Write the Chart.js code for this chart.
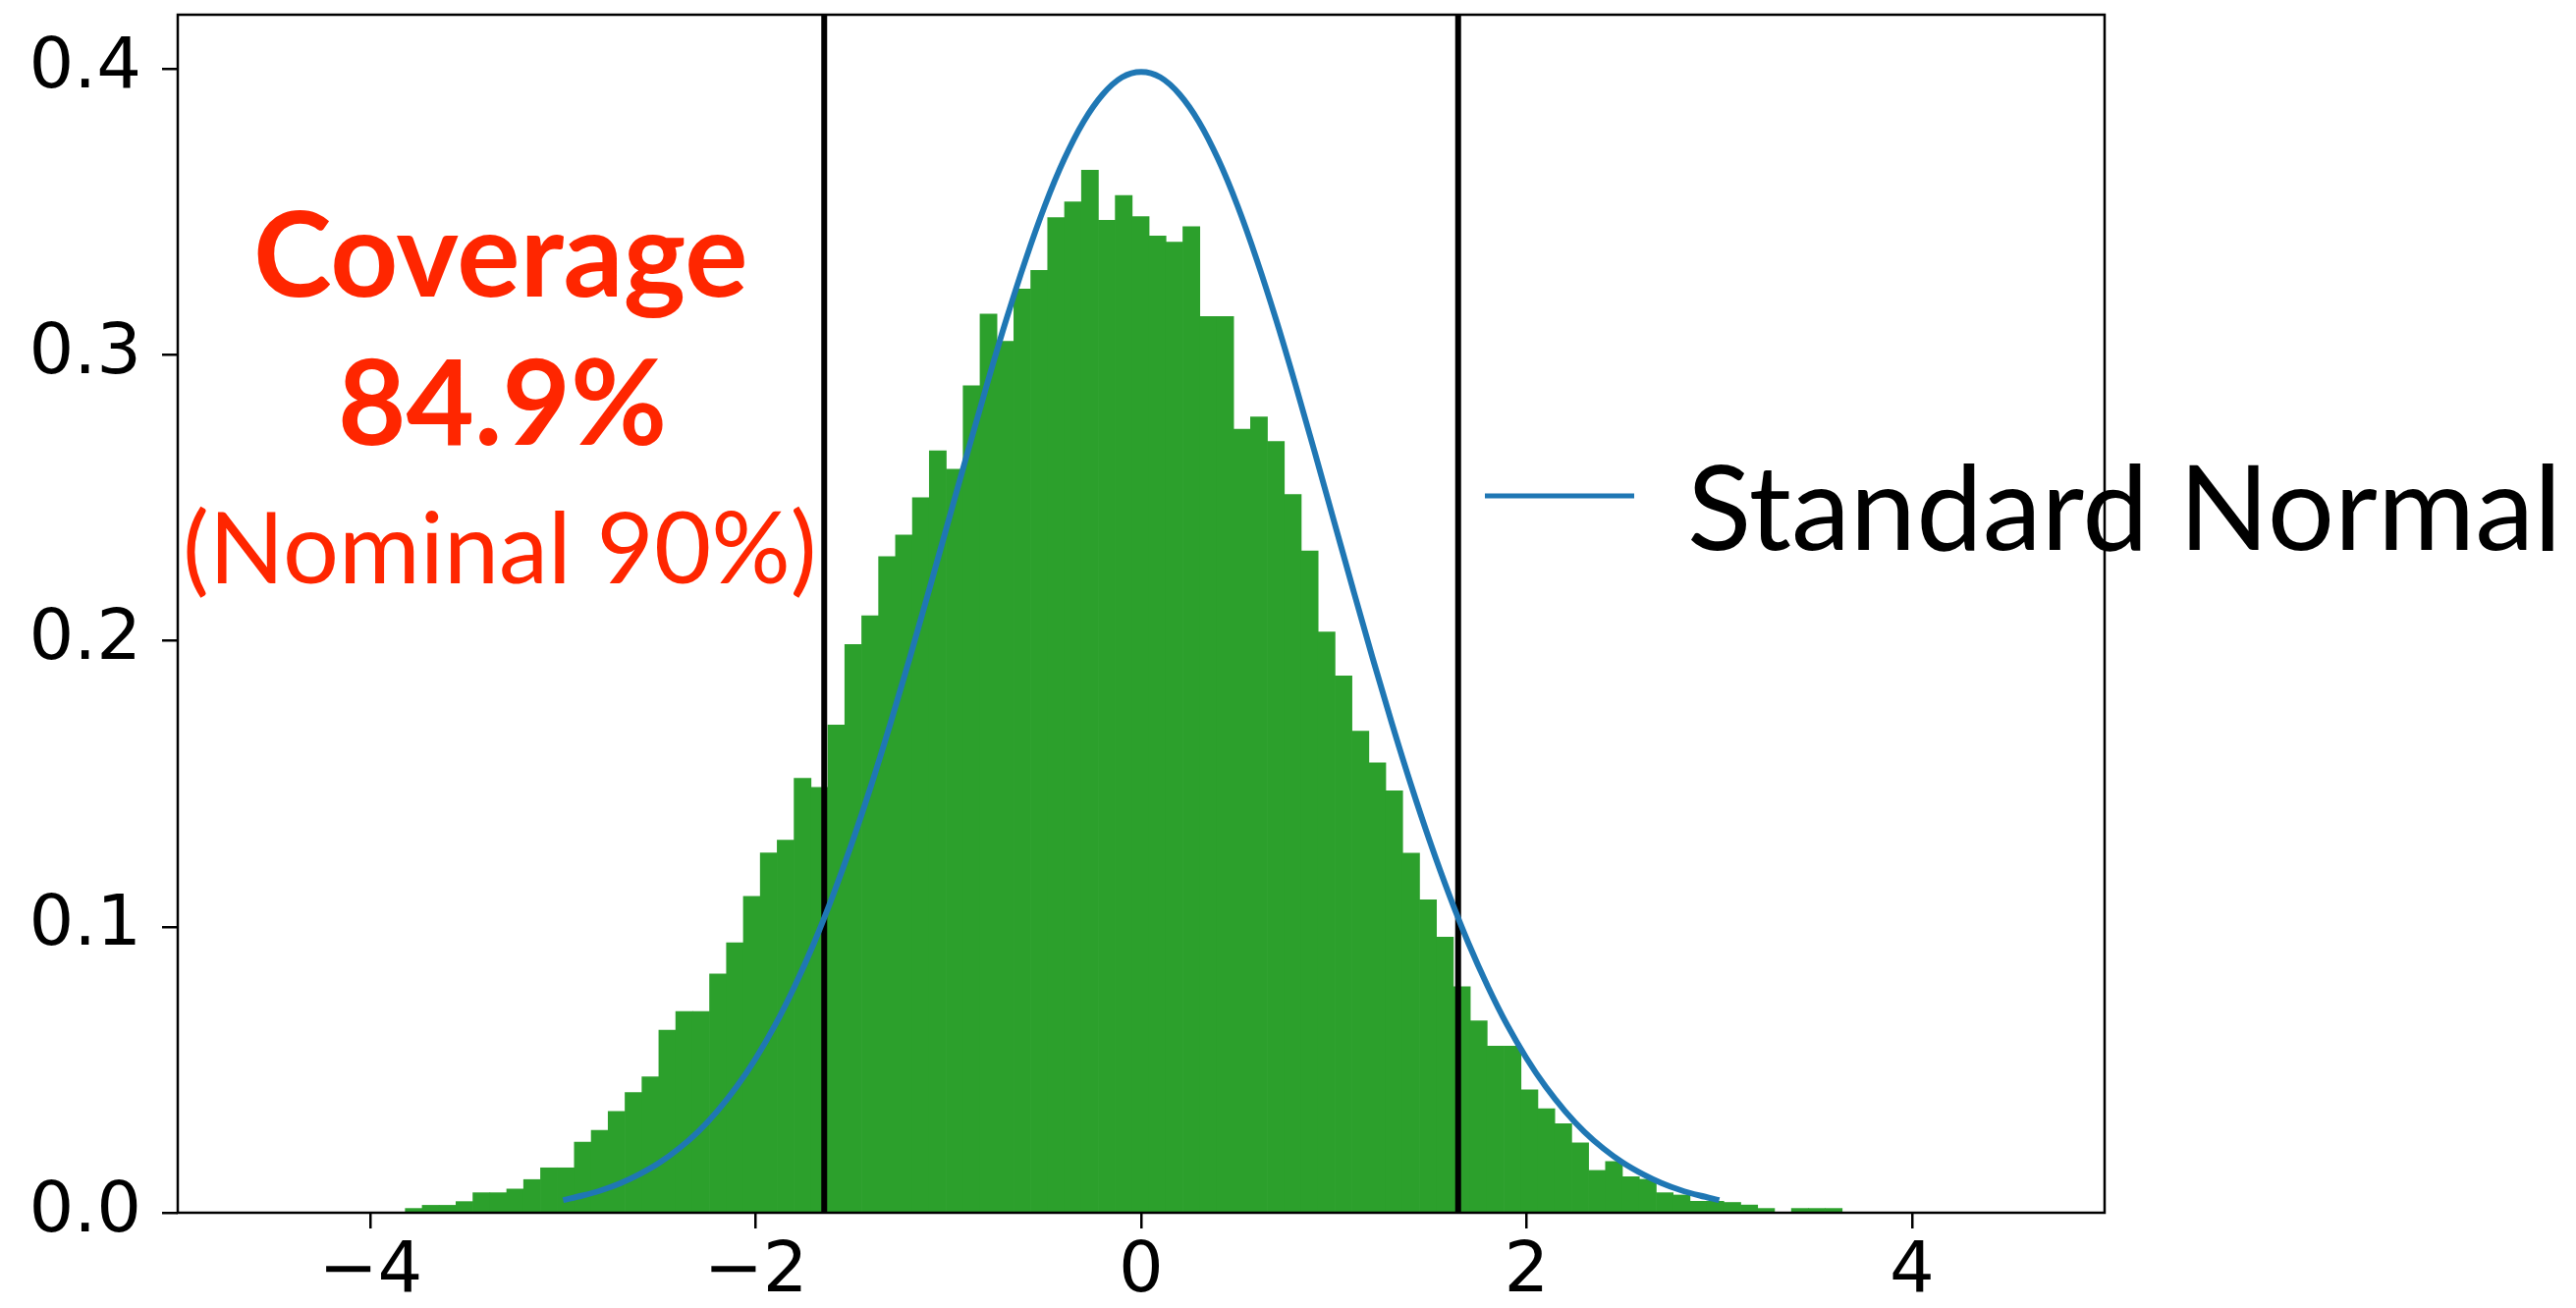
<!DOCTYPE html>
<html>
<head>
<meta charset="utf-8">
<script src="https://cdn.jsdelivr.net/npm/chart.js@4.4.1/dist/chart.umd.min.js"></script>
<style>
html,body{margin:0;padding:0;background:#ffffff;}
#wrap{width:2623px;height:1332px;}
canvas{display:block;}
</style>
</head>
<body>
<div id="wrap"><canvas id="c" width="2623" height="1332"></canvas></div>
<script>
// ---------- data ----------
const binStart = -3.819;      // left edge of first histogram bin
const binWidth = 0.08773;     // bin width
const density = [
  0.0015, 0.0026, 0.0026, 0.0039, 0.0070, 0.0070, 0.0083, 0.0116, 0.0157, 0.0157,
  0.0247, 0.0288, 0.0354, 0.0420, 0.0475, 0.0638, 0.0704, 0.0704, 0.0835, 0.0944,
  0.1106, 0.1258, 0.1303, 0.1519, 0.1487, 0.1705, 0.1987, 0.2087, 0.2294, 0.2370,
  0.2500, 0.2664, 0.2600, 0.2892, 0.3142, 0.3047, 0.3230, 0.3295, 0.3480, 0.3535,
  0.3645, 0.3470, 0.3557, 0.3483, 0.3415, 0.3394, 0.3448, 0.3134, 0.3134, 0.2740,
  0.2783, 0.2697, 0.2511, 0.2314, 0.2031, 0.1877, 0.1684, 0.1573, 0.1475, 0.1257,
  0.1094, 0.0964, 0.0790, 0.0671, 0.0583, 0.0583, 0.0430, 0.0364, 0.0311, 0.0244,
  0.0148, 0.0179, 0.0126, 0.0117, 0.0070, 0.0062, 0.0040, 0.0040, 0.0036, 0.0027,
  0.0015, 0.0000, 0.0015, 0.0015, 0.0015
];
const curveX = [
  -3.0,-2.9,-2.8,-2.7,-2.6,-2.5,-2.4,-2.3,-2.2,-2.1,-2.0,-1.9,-1.8,-1.7,-1.6,-1.5,
  -1.4,-1.3,-1.2,-1.1,-1.0,-0.9,-0.8,-0.7,-0.6,-0.5,-0.4,-0.3,-0.2,-0.1,0.0,
  0.1,0.2,0.3,0.4,0.5,0.6,0.7,0.8,0.9,1.0,1.1,1.2,1.3,1.4,1.5,
  1.6,1.7,1.8,1.9,2.0,2.1,2.2,2.3,2.4,2.5,2.6,2.7,2.8,2.9,3.0
];
const curveY = [
  0.0044,0.0060,0.0079,0.0104,0.0136,0.0175,0.0224,0.0283,0.0355,0.0440,0.0540,0.0656,0.0790,0.0940,0.1109,0.1295,
  0.1497,0.1714,0.1942,0.2179,0.2420,0.2661,0.2897,0.3123,0.3332,0.3521,0.3683,0.3814,0.3910,0.3970,0.3989,
  0.3970,0.3910,0.3814,0.3683,0.3521,0.3332,0.3123,0.2897,0.2661,0.2420,0.2179,0.1942,0.1714,0.1497,0.1295,
  0.1109,0.0940,0.0790,0.0656,0.0540,0.0440,0.0355,0.0283,0.0224,0.0175,0.0136,0.0104,0.0079,0.0060,0.0044
];
const nominalBounds = [-1.645, 1.645];
const xRange = [-5, 5];
const yRange = [0, 0.4189];
const xTicks = [-4, -2, 0, 2, 4];
const xTickLabels = ['\u22124', '\u22122', '0', '2', '4'];
const yTicks = [0, 0.1, 0.2, 0.3, 0.4];
const yTickLabels = ['0.0', '0.1', '0.2', '0.3', '0.4'];
const legendLabel = 'Standard Normal';
const annotationLines = ['Coverage', '84.9%', '(Nominal 90%)'];

// ---------- build datasets ----------
const histPoints = density.map((d, i) => ({ x: binStart + (i + 0.5) * binWidth, y: d }));
const curvePoints = curveX.map((x, i) => ({ x: x, y: curveY[i] }));
const boundLines = nominalBounds.map(b => [{ x: b, y: yRange[0] }, { x: b, y: yRange[1] }]);

const RED = 'rgb(255,38,0)';
const BLUE = '#1f77b4';

function drawFitted(ctx, text, weight, family, left, right, baseline, color) {
  ctx.font = weight + ' 100px ' + family;
  let m = ctx.measureText(text);
  let ink = m.actualBoundingBoxLeft + m.actualBoundingBoxRight;
  const size = 100 * (right - left) / ink;
  ctx.font = weight + ' ' + size + 'px ' + family;
  m = ctx.measureText(text);
  ctx.fillStyle = color;
  ctx.textAlign = 'left';
  ctx.textBaseline = 'alphabetic';
  ctx.fillText(text, left + m.actualBoundingBoxLeft, baseline);
}

const framePlugin = {
  id: 'frame',
  afterDatasetsDraw(chart) {
    const { ctx, chartArea: a } = chart;
    ctx.save();
    ctx.strokeStyle = '#000';
    ctx.lineWidth = 2.5;
    ctx.strokeRect(a.left, a.top, a.right - a.left, a.bottom - a.top);
    ctx.restore();
  }
};

const annotPlugin = {
  id: 'annot',
  afterDraw(chart) {
    const ctx = chart.ctx;
    ctx.save();
    drawFitted(ctx, annotationLines[0], 'bold', 'Lato', 262, 759, 302, RED);
    drawFitted(ctx, annotationLines[1], 'bold', 'Lato', 348, 676, 453, RED);
    drawFitted(ctx, annotationLines[2], 'normal', 'Lato', 190, 828, 594, RED);
    // legend
    const ds = chart.data.datasets[3];
    ctx.strokeStyle = ds.borderColor;
    ctx.lineWidth = 5;
    ctx.beginPath();
    ctx.moveTo(1512, 505);
    ctx.lineTo(1664, 505);
    ctx.stroke();
    drawFitted(ctx, ds.label, 'normal', 'Lato', 1721, 2600, 560, '#000');
    ctx.restore();
  }
};

const tickFont = { family: 'DejaVu Sans', size: 72 };

function zeroPad(s) { s.paddingTop = 0; s.paddingBottom = 0; s.paddingLeft = 0; s.paddingRight = 0; }

new Chart(document.getElementById('c'), {
  type: 'bar',
  data: {
    datasets: [
      { type: 'bar', label: 'Coverage histogram', data: histPoints, backgroundColor: '#2ca02c',
        borderWidth: 0, barPercentage: 1, categoryPercentage: 1, order: 3 },
      { type: 'line', label: 'lower bound', data: boundLines[0], borderColor: '#000', borderWidth: 6,
        pointRadius: 0, fill: false, order: 2 },
      { type: 'line', label: 'upper bound', data: boundLines[1], borderColor: '#000', borderWidth: 6,
        pointRadius: 0, fill: false, order: 2 },
      { type: 'line', label: legendLabel, data: curvePoints, borderColor: BLUE, borderWidth: 6,
        pointRadius: 0, fill: false, cubicInterpolationMode: 'monotone', order: 1 }
    ]
  },
  options: {
    responsive: false,
    animation: false,
    devicePixelRatio: 1,
    layout: { autoPadding: false, padding: { left: 0, top: 15, right: 480, bottom: 0 } },
    plugins: { legend: { display: false }, tooltip: { enabled: false } },
    scales: {
      x: {
        type: 'linear', min: xRange[0], max: xRange[1], offset: false,
        afterBuildTicks: s => { s.ticks = xTicks.map(v => ({ value: v })); },
        afterFit: s => { s.height = 97; zeroPad(s); },
        grid: { display: true, offset: false, drawOnChartArea: false, drawTicks: true, tickLength: 16,
                lineWidth: 2.5, tickWidth: 2.5, color: '#000' },
        border: { display: false },
        ticks: { font: tickFont, color: '#000', padding: 2, maxRotation: 0, minRotation: 0, autoSkip: false,
                 callback: (v, i) => xTickLabels[i] }
      },
      y: {
        type: 'linear', min: yRange[0], max: yRange[1],
        afterBuildTicks: s => { s.ticks = yTicks.map(v => ({ value: v })); },
        afterFit: s => { s.width = 181; zeroPad(s); },
        grid: { display: true, drawOnChartArea: false, drawTicks: true, tickLength: 16,
                lineWidth: 2.5, tickWidth: 2.5, color: '#000' },
        border: { display: false },
        ticks: { font: tickFont, color: '#000', padding: 21, autoSkip: false,
                 callback: (v, i) => yTickLabels[i] }
      }
    }
  },
  plugins: [framePlugin, annotPlugin]
});
</script>
</body>
</html>
